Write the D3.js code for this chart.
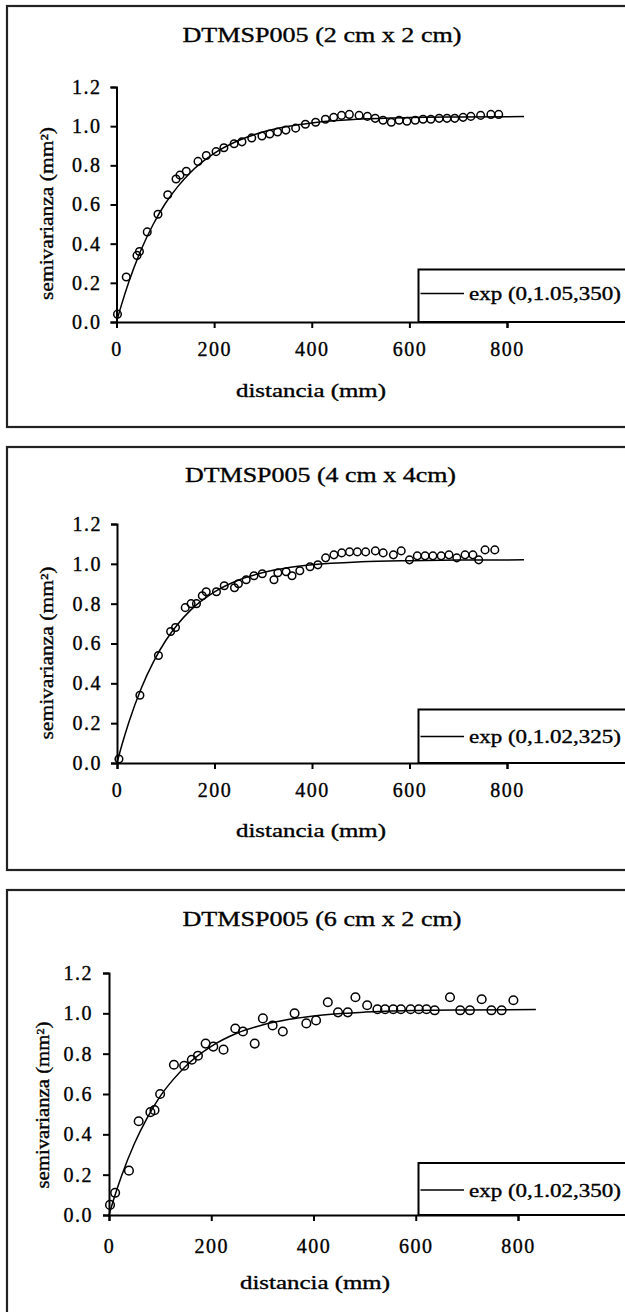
<!DOCTYPE html>
<html>
<head>
<meta charset="utf-8">
<script src="https://cdn.jsdelivr.net/npm/d3@7"></script>
<style>
  body { margin: 0; background: #fff; }
  svg { display: block; }
  text { font-family: "Liberation Serif", "Times New Roman", serif; fill: #000; stroke: #000; stroke-width: 0.35px; }
</style>
</head>
<body>
<div id="wrapper"></div>
<script>
/* global d3 */

const titles = ["DTMSP005 (2 cm x 2 cm)", "DTMSP005 (4 cm x 4cm)", "DTMSP005 (6 cm x 2 cm)"];
const legendLabels = ["exp (0,1.05,350)", "exp (0,1.02,325)", "exp (0,1.02,350)"];
const xLabel = "distancia (mm)";
const yLabel = "semivarianza (mm²)";
const xTicks = [0, 200, 400, 600, 800];
const yTicks = [0, 0.2, 0.4, 0.6, 0.8, 1.0, 1.2];

// fitted model curves
const modelDist = [0, 10, 25, 50, 75, 100, 125, 150, 200, 250, 300, 350, 400, 500, 600, 700, 835];
const model2x2 = [0, 0.086, 0.203, 0.366, 0.498, 0.605, 0.69, 0.76, 0.861, 0.927, 0.97, 0.998, 1.016, 1.036, 1.044, 1.047, 1.049];
const model4x4 = [0, 0.09, 0.21, 0.377, 0.509, 0.615, 0.698, 0.765, 0.859, 0.919, 0.956, 0.98, 0.995, 1.01, 1.016, 1.019, 1.02];
const model6x2 = [0, 0.084, 0.197, 0.356, 0.483, 0.588, 0.67, 0.738, 0.836, 0.901, 0.942, 0.969, 0.987, 1.006, 1.014, 1.017, 1.019];

// experimental semivariogram points
const dist2x2 = [2, 20, 42, 47, 63, 85, 105, 122, 130, 143, 167, 184, 204, 220, 241, 257, 277, 298, 314, 330, 347, 367, 387, 408, 428, 445, 461, 477, 497, 514, 530, 546, 563, 579, 595, 612, 628, 644, 661, 677, 693, 710, 726, 746, 767, 783];
const semi2x2 = [0.04, 0.23, 0.34, 0.36, 0.46, 0.55, 0.65, 0.73, 0.75, 0.77, 0.82, 0.85, 0.87, 0.89, 0.91, 0.92, 0.94, 0.95, 0.96, 0.97, 0.98, 0.99, 1.01, 1.02, 1.035, 1.045, 1.055, 1.06, 1.055, 1.05, 1.04, 1.03, 1.02, 1.03, 1.025, 1.03, 1.035, 1.035, 1.04, 1.04, 1.04, 1.045, 1.05, 1.055, 1.06, 1.06];

const dist4x4 = [4, 47, 85, 110, 120, 140, 152, 163, 175, 183, 204, 220, 241, 249, 265, 281, 298, 322, 330, 347, 359, 375, 396, 412, 428, 445, 461, 477, 493, 510, 530, 546, 567, 583, 600, 616, 632, 648, 665, 681, 697, 714, 730, 742, 755, 775];
const semi4x4 = [0.02, 0.34, 0.54, 0.66, 0.68, 0.78, 0.8, 0.8, 0.84, 0.86, 0.86, 0.89, 0.88, 0.9, 0.92, 0.94, 0.95, 0.92, 0.955, 0.96, 0.94, 0.965, 0.985, 0.995, 1.03, 1.045, 1.055, 1.06, 1.06, 1.06, 1.065, 1.055, 1.045, 1.065, 1.02, 1.04, 1.04, 1.04, 1.04, 1.045, 1.03, 1.045, 1.045, 1.02, 1.07, 1.07];

const dist6x2 = [2, 12, 39, 58, 81, 89, 100, 127, 147, 162, 174, 189, 204, 224, 247, 262, 285, 301, 320, 340, 363, 386, 405, 428, 448, 467, 482, 505, 525, 540, 556, 571, 590, 606, 621, 637, 667, 687, 706, 729, 748, 768, 791];
const semi6x2 = [0.05, 0.11, 0.22, 0.465, 0.51, 0.52, 0.6, 0.745, 0.74, 0.77, 0.79, 0.85, 0.835, 0.82, 0.925, 0.91, 0.85, 0.975, 0.94, 0.91, 1.0, 0.95, 0.965, 1.055, 1.005, 1.005, 1.08, 1.04, 1.02, 1.02, 1.02, 1.02, 1.02, 1.02, 1.02, 1.015, 1.08, 1.015, 1.015, 1.07, 1.015, 1.015, 1.065];

const series = [
  { dist: dist2x2, semi: semi2x2, model: model2x2 },
  { dist: dist4x4, semi: semi4x4, model: model4x4 },
  { dist: dist6x2, semi: semi6x2, model: model6x2 },
];

// panel layout in pixels
const panels = [
  { top: 6, bottom: 427, x0: 116.5, x1: 507, y0: 322, y1: 87, xPad: 14, yPad: 9, titleX: 322, titleY: 42, titleLen: 279, xLabelY: 397, xLabelX: 311, yLabelX: 46.5, yLabelY: 213.5, yLabelLen: 173, legendTop: 269.5, legendY: 293.5, r: 3.8 },
  { top: 447, bottom: 870, x0: 117, x1: 507, y0: 763, y1: 524, xPad: 14, yPad: 9, titleX: 320.5, titleY: 482, titleLen: 271, xLabelY: 837, xLabelX: 311, yLabelX: 47, yLabelY: 653, yLabelLen: 173, legendTop: 709.5, legendY: 736.5, r: 3.8 },
  { top: 890, bottom: 1360, x0: 109, x1: 518, y0: 1215, y1: 973, xPad: 18, yPad: 10, titleX: 322, titleY: 926, titleLen: 279, xLabelY: 1289, xLabelX: 315, yLabelX: 43, yLabelY: 1105, yLabelLen: 167, legendTop: 1163, legendY: 1190, r: 4.3 },
];

const svg = d3
  .select("#wrapper")
  .append("svg")
  .attr("width", 625)
  .attr("height", 1312);

panels.forEach((p, i) => {
  const s = series[i];
  const g = svg.append("g");

  g.append("rect")
    .attr("x", 7)
    .attr("y", p.top)
    .attr("width", 700)
    .attr("height", p.bottom - p.top)
    .attr("fill", "none")
    .attr("stroke", "#222")
    .attr("stroke-width", 2.2);

  const xScale = d3.scaleLinear().domain([0, 800]).range([p.x0, p.x1]);
  const yScale = d3.scaleLinear().domain([0, 1.2]).range([p.y0, p.y1]);

  g.append("text")
    .attr("x", p.titleX)
    .attr("y", p.titleY)
    .attr("text-anchor", "middle")
    .attr("textLength", p.titleLen)
    .attr("lengthAdjust", "spacingAndGlyphs")
    .style("font-size", "21px")
    .text(titles[i]);

  // legend box, bottom edge sits on the x axis
  g.append("rect")
    .attr("x", 418.5)
    .attr("y", p.legendTop)
    .attr("width", 300)
    .attr("height", p.y0 - p.legendTop)
    .attr("fill", "#fff")
    .attr("stroke", "#000")
    .attr("stroke-width", 2);

  g.append("line")
    .attr("x1", 420.5)
    .attr("x2", 464)
    .attr("y1", p.legendY)
    .attr("y2", p.legendY)
    .attr("stroke", "#000")
    .attr("stroke-width", 1.5);

  g.append("text")
    .attr("x", 469)
    .attr("y", p.legendY + 6.5)
    .attr("textLength", 152)
    .attr("lengthAdjust", "spacingAndGlyphs")
    .style("font-size", "18px")
    .text(legendLabels[i]);

  const xAxis = g
    .append("g")
    .attr("transform", `translate(0,${p.y0})`)
    .call(
      d3.axisBottom(xScale).tickValues(xTicks).tickSize(6).tickPadding(p.xPad).tickFormat(d3.format("d"))
    );

  const yAxis = g
    .append("g")
    .attr("transform", `translate(${p.x0},0)`)
    .call(
      d3.axisLeft(yScale).tickValues(yTicks).tickSize(6).tickPadding(p.yPad).tickFormat(d3.format(".1f"))
    );

  [xAxis, yAxis].forEach((ax) => {
    ax.attr("font-family", null).attr("font-size", null);
    ax.selectAll("path, line").attr("stroke", "#000").attr("stroke-width", 2);
    ax.selectAll("text")
      .style("font-size", "20px")
      .style("letter-spacing", "1.5px");
  });

  g.append("text")
    .attr("x", p.xLabelX)
    .attr("y", p.xLabelY)
    .attr("text-anchor", "middle")
    .attr("textLength", 150)
    .attr("lengthAdjust", "spacingAndGlyphs")
    .style("font-size", "19px")
    .text(xLabel);

  g.append("text")
    .attr("transform", `translate(${p.yLabelX + 6},${p.yLabelY}) rotate(-90)`)
    .attr("text-anchor", "middle")
    .attr("textLength", p.yLabelLen)
    .attr("lengthAdjust", "spacingAndGlyphs")
    .style("font-size", "18px")
    .text(yLabel);

  const lineGenerator = d3
    .line()
    .curve(d3.curveMonotoneX)
    .x((d, j) => xScale(modelDist[j]))
    .y((d) => yScale(d));

  g.append("path")
    .attr("d", lineGenerator(s.model))
    .attr("fill", "none")
    .attr("stroke", "#000")
    .attr("stroke-width", 1.5);

  g.selectAll("circle.pt")
    .data(s.semi)
    .join("circle")
    .attr("class", "pt")
    .attr("cx", (d, j) => xScale(s.dist[j]))
    .attr("cy", (d) => yScale(d))
    .attr("r", p.r)
    .attr("fill", "none")
    .attr("stroke", "#000")
    .attr("stroke-width", 1.5);
});
</script>
</body>
</html>
